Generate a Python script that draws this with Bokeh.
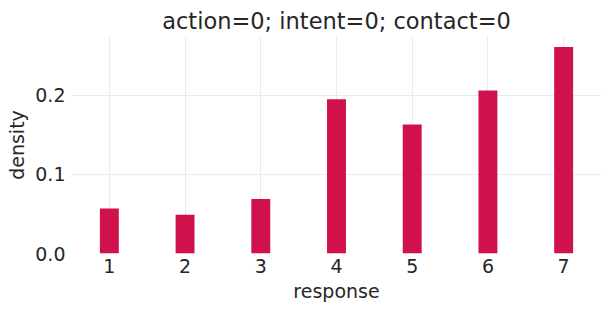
from bokeh.plotting import figure
from bokeh.models import Range1d, FixedTicker, CustomJSTickFormatter
from bokeh.embed import file_html
from bokeh.resources import INLINE

responses = [1, 2, 3, 4, 5, 6, 7]
density = [0.057, 0.049, 0.069, 0.195, 0.163, 0.206, 0.261]
x_ticks = [1, 2, 3, 4, 5, 6, 7]
y_ticks = [0.0, 0.1, 0.2]
title_text = "action=0; intent=0; contact=0"

FONT = "DejaVu Sans"
TXT = "#262626"

p = figure(width=611, height=311, output_backend="svg", toolbar_location=None,
           x_range=Range1d(0.5, 7.5), y_range=Range1d(0, 0.2743),
           title=title_text)
p.vbar(x=responses, top=density, width=0.25, bottom=0,
       fill_color="#d1114b", line_color=None)

p.min_border_left = 71
p.min_border_right = 10
p.min_border_top = 36
p.min_border_bottom = 58
p.outline_line_color = None
p.background_fill_color = "white"
p.border_fill_color = "white"

p.title.text_font = FONT
p.title.text_font_size = "22.5px"
p.title.text_font_style = "normal"
p.title.text_color = TXT
p.title.align = "center"
p.title.offset = 0
p.title.standoff = 5

for ax in (p.xaxis[0], p.yaxis[0]):
    ax.axis_line_color = None
    ax.major_tick_line_color = None
    ax.minor_tick_line_color = None
    ax.major_label_text_font = FONT
    ax.major_label_text_font_size = "19px"
    ax.major_label_text_color = TXT
    ax.axis_label_text_font = FONT
    ax.axis_label_text_font_size = "19px"
    ax.axis_label_text_font_style = "normal"
    ax.axis_label_text_color = TXT
    ax.major_tick_out = 0
    ax.major_tick_in = 0

p.xaxis.ticker = FixedTicker(ticks=x_ticks)
p.yaxis.ticker = FixedTicker(ticks=y_ticks)
p.xaxis.axis_label = "response"
p.yaxis.axis_label = "density"
p.xaxis.major_label_standoff = 5
p.yaxis.major_label_standoff = 6
p.xaxis.axis_label_standoff = 4
p.yaxis.axis_label_standoff = 4
p.yaxis.formatter = CustomJSTickFormatter(code="return tick.toFixed(1);")

p.xgrid.grid_line_color = "#ebebeb"
p.ygrid.grid_line_color = "#ebebeb"
p.xgrid.grid_line_width = 1
p.ygrid.grid_line_width = 1

open("out.html", "w").write(file_html(p, INLINE))
